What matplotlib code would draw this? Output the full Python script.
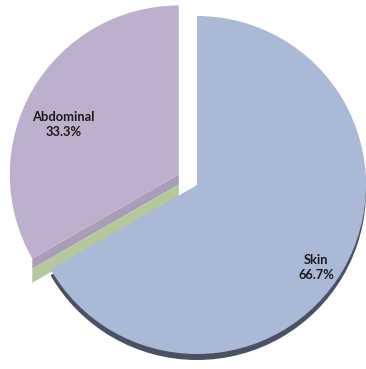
import numpy as np
import matplotlib
matplotlib.use("Agg")
import matplotlib.pyplot as plt
from matplotlib.patches import Wedge, Polygon

# Share of cases by site
categories = ["Skin", "Abdominal"]
shares = [66.7, 33.3]
slice_colors = ["#A9B9D6", "#BDB0CC"]

W, H = 366, 369
fig = plt.figure(figsize=(W / 100, H / 100), dpi=100)
ax = fig.add_axes([0, 0, 1, 1])

radius = 169
center = (197, 184)
depth = 6
start = 90
# pie offsets are in data units here (pixels), since the axes span the figure
explode = [0, 21]

wedges, _ = ax.pie(shares, startangle=start, counterclock=False, radius=radius,
                   center=center, colors=slice_colors, explode=explode,
                   wedgeprops=dict(linewidth=0, zorder=3))

# 3D side of the skin slice: same wedge dropped a few pixels, dark rim
skin = wedges[0]
ax.add_patch(Wedge((skin.center[0], skin.center[1] - depth), skin.r,
                   skin.theta1, skin.theta2, color="#4A5163", lw=0, zorder=1))

# cut face of the exploded abdominal slice plus the green edge beneath it
abd = wedges[1]
boundary = start - 360 * shares[0] / sum(shares)  # edge shared by both slices
ang = np.deg2rad(boundary)
A = np.array(abd.center, dtype=float)
E = A + abd.r * np.array([np.cos(ang), np.sin(ang)])
d1, d2 = 10, 24
ax.add_patch(Polygon([A, E, E - [0, d1], A - [0, d1]], closed=True,
                     color="#A99DB8", lw=0, zorder=2))
ax.add_patch(Polygon([A - [0, d1], E - [0, d1], E - [0, d2], A - [0, d2]],
                     closed=True, color="#B4C89C", lw=0, zorder=2))

# slice labels
label_pos = [(-34.7, 0.86), (156.5, 0.745)]
for w, name, val, (a, f) in zip(wedges, categories, shares, label_pos):
    cx, cy = w.center
    x = cx + f * w.r * np.cos(np.deg2rad(a))
    y = cy + f * w.r * np.sin(np.deg2rad(a))
    ax.text(x, y, f"{name}\n{val:.1f}%", ha="center", va="center",
            fontsize=9.3, fontweight="bold", family=["Lato", "DejaVu Sans"],
            color="#1A1A1A", linespacing=1.3, zorder=5)

ax.set_xlim(0, W)
ax.set_ylim(0, H)
ax.set_aspect("equal")
ax.axis("off")

fig.savefig("out.png", dpi=100)
